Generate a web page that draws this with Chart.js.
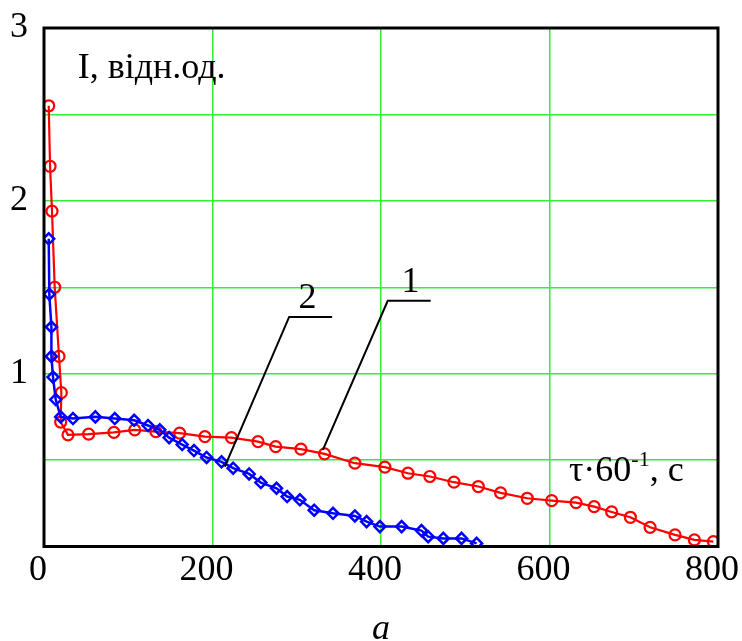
<!DOCTYPE html>
<html>
<head>
<meta charset="utf-8">
<script src="https://cdn.jsdelivr.net/npm/chart.js@4.4.1/dist/chart.umd.min.js"></script>
<style>
  body { margin: 0; background: #fff; }
  #wrap { width: 742px; height: 641px; }
</style>
</head>
<body>
<div id="wrap"><canvas id="chart" width="742" height="641"></canvas></div>
<script>
// curve 1 (red, circles)
const timeRed = [5.6, 7.2, 9.5, 12.7, 17.8, 20.6, 19.8, 28.5, 53, 83, 107.7, 132.7, 161, 191, 222.5,
    254, 275, 305, 333, 369, 404.6, 432, 458, 486.6, 515.5, 542, 573.6, 602.6, 631.5, 653,
    673.8, 696, 719.4, 749, 772, 794.5];
const intensityRed = [2.55, 2.20, 1.94, 1.50, 1.10, 0.89, 0.72, 0.646, 0.65, 0.66, 0.675, 0.665, 0.656, 0.636, 0.63,
    0.607, 0.578, 0.563, 0.536, 0.482, 0.459, 0.424, 0.405, 0.372, 0.347, 0.31, 0.279, 0.265, 0.254, 0.231,
    0.2, 0.169, 0.111, 0.067, 0.038, 0.028];

// curve 2 (blue, diamonds)
const timeBlue = [5.6, 6.3, 8.8, 8.8, 10.7, 13.9, 19.8, 34.4, 61, 84, 107, 123.5, 137.4, 148.5, 164,
    178, 193, 210.7, 224.5, 243.5, 257.4, 276, 288.6, 303.7, 320.7, 343, 369, 382.9, 398.7, 424.5,
    448, 456, 474, 495.6, 513.5];
const intensityBlue = [1.78, 1.46, 1.27, 1.10, 0.98, 0.85, 0.75, 0.74, 0.75, 0.74, 0.73, 0.70, 0.675, 0.63, 0.59,
    0.555, 0.515, 0.49, 0.453, 0.42, 0.37, 0.337, 0.289, 0.27, 0.21, 0.192, 0.177, 0.144, 0.115, 0.115,
    0.092, 0.057, 0.047, 0.047, 0.018];

// axis ticks
const xTicks = [0, 200, 400, 600, 800];
const yTickLabels = [1, 2, 3];

// leader lines for curve numbers: [bottom end, corner, right end] in data units
const leader1 = [[331, 0.559], [408, 1.422], [459, 1.422]];
const leader2 = [[214.6, 0.462], [291, 1.328], [342, 1.328]];

const serif = '"Liberation Serif", "Times New Roman", serif';

function toPoints(xs, ys) {
    return xs.map((x, i) => ({ x: x, y: ys[i] }));
}

const decor = {
    id: "decor",
    afterDraw(chart) {
        const ctx = chart.ctx;
        const xs = chart.scales.x;
        const ys = chart.scales.y;
        const a = chart.chartArea;

        ctx.save();
        // frame
        ctx.strokeStyle = "#000";
        ctx.lineWidth = 3;
        ctx.strokeRect(a.left, a.top, a.right - a.left, a.bottom - a.top);

        // leader lines
        ctx.lineWidth = 2;
        [leader1, leader2].forEach(l => {
            ctx.beginPath();
            l.forEach((p, i) => {
                const px = xs.getPixelForValue(p[0]);
                const py = ys.getPixelForValue(p[1]);
                if (i === 0) ctx.moveTo(px, py); else ctx.lineTo(px, py);
            });
            ctx.stroke();
        });

        ctx.fillStyle = "#000";
        ctx.font = "36px " + serif;
        ctx.textBaseline = "alphabetic";
        ctx.textAlign = "center";
        ctx.fillText("1", xs.getPixelForValue(435), ys.getPixelForValue(1.474));
        ctx.fillText("2", xs.getPixelForValue(312.7), ys.getPixelForValue(1.382));

        ctx.textAlign = "left";
        ctx.fillText("I, відн.од.", xs.getPixelForValue(40), ys.getPixelForValue(2.709));

        // τ·60^-1, c
        let tx = xs.getPixelForValue(623);
        const ty = ys.getPixelForValue(0.38);
        ctx.fillText("τ·60", tx, ty);
        tx += ctx.measureText("τ·60").width;
        ctx.font = "22px " + serif;
        ctx.fillText("-1", tx, ty - 15);
        tx += ctx.measureText("-1").width;
        ctx.font = "36px " + serif;
        ctx.fillText(", c", tx, ty);

        // panel letter
        ctx.font = "italic 36px " + serif;
        ctx.textAlign = "center";
        ctx.fillText("a", (a.left + a.right) / 2, chart.height - 2);
        ctx.restore();
    }
};

new Chart(document.getElementById("chart"), {
    type: "line",
    data: {
        datasets: [
            {
                label: "1",
                data: toPoints(timeRed, intensityRed),
                borderColor: "#ff0000",
                backgroundColor: "transparent",
                borderWidth: 2.2,
                pointStyle: "circle",
                pointRadius: 5.5,
                pointBorderWidth: 2.2,
                pointBorderColor: "#ff0000",
                pointBackgroundColor: "transparent",
                tension: 0,
                order: 1
            },
            {
                label: "2",
                data: toPoints(timeBlue, intensityBlue),
                borderColor: "#0000ff",
                backgroundColor: "transparent",
                borderWidth: 2.5,
                pointStyle: "rectRot",
                pointRadius: 5.5,
                pointBorderWidth: 2.5,
                pointBorderColor: "#0000ff",
                pointBackgroundColor: "transparent",
                tension: 0,
                order: 0
            }
        ]
    },
    options: {
        responsive: false,
        animation: false,
        layout: { padding: { top: 28, right: 24, left: 0, bottom: 0 } },
        plugins: {
            legend: { display: false },
            tooltip: { enabled: false }
        },
        scales: {
            x: {
                type: "linear",
                min: 0,
                max: 800,
                afterFit: s => {
                    s.height = 94.5;
                    s.paddingLeft = 0;
                    s.paddingRight = 0;
                },
                afterBuildTicks: s => { s.ticks = xTicks.map(v => ({ value: v })); },
                border: { display: false },
                grid: { color: "#33ee33", lineWidth: 1.5, drawTicks: false },
                ticks: {
                    color: "#000",
                    padding: 2,
                    labelOffset: -6,
                    maxRotation: 0,
                    font: { family: serif, size: 36 }
                }
            },
            y: {
                min: 0,
                max: 3,
                afterFit: s => {
                    s.width = 44;
                    s.paddingTop = 0;
                    s.paddingBottom = 0;
                },
                border: { display: false },
                grid: { color: "#33ee33", lineWidth: 1.5, drawTicks: false },
                ticks: {
                    stepSize: 0.5,
                    autoSkip: false,
                    color: "#000",
                    padding: 16,
                    font: { family: serif, size: 36 },
                    callback: v => yTickLabels.includes(v) ? String(v) : ""
                }
            }
        }
    },
    plugins: [decor]
});
</script>
</body>
</html>
